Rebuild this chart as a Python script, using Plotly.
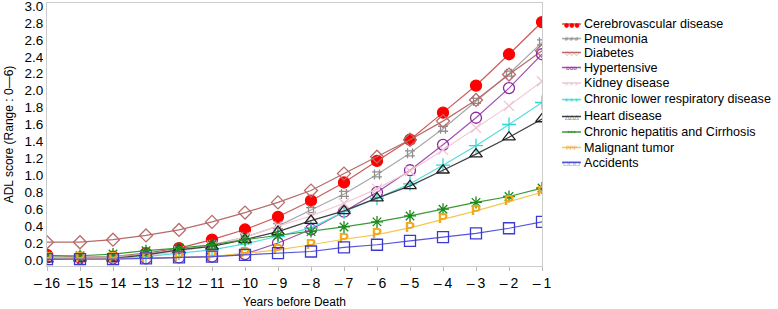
import plotly.graph_objects as go

years = [-16, -15, -14, -13, -12, -11, -10, -9, -8, -7, -6, -5, -4, -3, -2, -1]
tick_labels = ["\u2013\u200916", "\u2013\u200915", "\u2013\u200914", "\u2013\u200913", "\u2013\u200912",
               "\u2013\u200911", "\u2013\u200910", "\u2013\u20099", "\u2013\u20098", "\u2013\u20097",
               "\u2013\u20096", "\u2013\u20095", "\u2013\u20094", "\u2013\u20093", "\u2013\u20092", "\u2013\u20091"]
y_ticks = [0.0, 0.2, 0.4, 0.6, 0.8, 1.0, 1.2, 1.4, 1.6, 1.8, 2.0, 2.2, 2.4, 2.6, 2.8, 3.0]

cerebrovascular = [0.06, 0.03, 0.04, 0.08, 0.14, 0.24, 0.36, 0.51, 0.70, 0.915, 1.17, 1.42, 1.74, 2.06, 2.43, 2.81]
pneumonia = [0.04, 0.03, 0.04, 0.07, 0.12, 0.18, 0.27, 0.40, 0.59, 0.78, 1.01, 1.26, 1.55, 1.88, 2.20, 2.57]
diabetes = [0.21, 0.21, 0.24, 0.29, 0.355, 0.45, 0.56, 0.68, 0.82, 1.02, 1.22, 1.42, 1.64, 1.89, 2.19, 2.47]
hypertensive = [0.03, 0.02, 0.02, 0.02, 0.03, 0.04, 0.07, 0.20, 0.36, 0.57, 0.80, 1.06, 1.36, 1.68, 2.03, 2.43]
kidney = [0.03, 0.02, 0.03, 0.05, 0.10, 0.17, 0.27, 0.40, 0.52, 0.67, 0.84, 1.05, 1.30, 1.56, 1.82, 2.11]
clrd = [0.03, 0.02, 0.02, 0.04, 0.08, 0.12, 0.19, 0.28, 0.38, 0.57, 0.73, 0.90, 1.12, 1.35, 1.60, 1.86]
heart = [0.01, 0.02, 0.02, 0.06, 0.12, 0.16, 0.24, 0.335, 0.465, 0.58, 0.73, 0.875, 1.06, 1.25, 1.45, 1.665]
hepatitis = [0.05, 0.05, 0.07, 0.11, 0.14, 0.18, 0.24, 0.29, 0.335, 0.39, 0.45, 0.52, 0.60, 0.68, 0.75, 0.85]
malignant = [0.02, 0.02, 0.02, 0.02, 0.03, 0.04, 0.08, 0.12, 0.18, 0.245, 0.30, 0.38, 0.48, 0.58, 0.69, 0.80]
accidents = [0.01, 0.01, 0.01, 0.02, 0.03, 0.04, 0.06, 0.08, 0.10, 0.15, 0.18, 0.225, 0.27, 0.315, 0.375, 0.45]

# name, values, line colour, marker colour, marker symbol, size, legend glyph
series = [
    ("Cerebrovascular disease", cerebrovascular, "#cc5a5a", "#ff0000", "circle", 11, "\u25cf"),
    ("Pneumonia", pneumonia, "#a8a8a8", "#909090", "hash-open", 10, "#"),
    ("Diabetes", diabetes, "#b86a6a", "#b86a6a", "diamond-open", 10, "\u25c7"),
    ("Hypertensive", hypertensive, "#a050b0", "#8a2aa0", "circle-open", 11, "o"),
    ("Kidney disease", kidney, "#f2c8d4", "#f0c0d0", "x-thin-open", 10, "\u00d7"),
    ("Chronic lower respiratory disease", clrd, "#55dede", "#30d8d8", "cross-thin-open", 10, "+"),
    ("Heart disease", heart, "#404040", "#202020", "triangle-up-open", 11, "\u25b3"),
    ("Chronic hepatitis and Cirrhosis", hepatitis, "#3a9a3a", "#1a8a1a", "asterisk-open", 10, "*"),
    ("Malignant tumor", malignant, "#f2c850", "#f0a818", None, 10, "P"),
    ("Accidents", accidents, "#5555dd", "#3a3ad0", "square-open", 11, "\u25a1"),
]

ML, MR, MT, MB = 47, 236, 3, 43
W, H = 778, 309
PW, PH = W - ML - MR, H - MT - MB

def px_x(p):
    return (p - ML) / PW

def px_y(p):
    return (H - MB - p) / PH

fig = go.Figure()
for name, vals, lc, mc, sym, ms, g in series:
    if sym is None:
        fig.add_trace(go.Scatter(
            x=years, y=vals, name=name, mode="lines",
            line=dict(color=lc, width=1.2), showlegend=False,
        ))
        fig.add_trace(go.Scatter(
            x=years, y=vals, mode="text", text=["<b>P</b>"] * len(years), showlegend=False,
            textfont=dict(color=mc, size=15, family="Liberation Sans"),
            hoverinfo="skip",
        ))
    else:
        fig.add_trace(go.Scatter(
            x=years, y=vals, name=name, mode="lines+markers", showlegend=False,
            line=dict(color=lc, width=1.2),
            marker=dict(symbol=sym, size=ms, color=mc, line=dict(color=mc, width=1.3)),
        ))

# manual legend
row_y = [24, 38.5, 52.5, 67.5, 83, 99.5, 116.5, 132, 147.5, 162.5]
shapes = []
annotations = []
for (name, vals, lc, mc, sym, ms, g), ry in zip(series, row_y):
    shapes.append(dict(type="line", xref="paper", yref="paper",
                       x0=px_x(562), x1=px_x(581), y0=px_y(ry), y1=px_y(ry),
                       line=dict(color=lc, width=1.5)))
    annotations.append(dict(xref="paper", yref="paper", x=px_x(571.5), y=px_y(ry),
                            text=g + g + g, showarrow=False, xanchor="center", yanchor="middle",
                            font=dict(size=6, color=mc, family="DejaVu Sans")))
    annotations.append(dict(xref="paper", yref="paper", x=px_x(582), y=px_y(ry),
                            text=name, showarrow=False, xanchor="left", yanchor="middle",
                            font=dict(size=12.6, color="#000000")))

fig.update_layout(
    width=W, height=H,
    margin=dict(l=ML, r=MR, t=MT, b=MB),
    paper_bgcolor="white", plot_bgcolor="white",
    font=dict(family="Liberation Sans, Arial, sans-serif", color="#000000", size=12),
    showlegend=False,
    shapes=shapes, annotations=annotations,
    xaxis=dict(range=[-16, -1], tickmode="array", tickvals=years, ticktext=tick_labels,
               showgrid=False, zeroline=False, showline=True, linecolor="#cccccc", mirror=True,
               ticks="outside", ticklen=4, tickcolor="#bbbbbb", automargin=False,
               title=dict(text="Years before Death", font=dict(size=12), standoff=10),
               tickfont=dict(size=14)),
    yaxis=dict(range=[-0.071, 3.035], tickmode="array", tickvals=y_ticks,
               ticktext=[f"{v:.1f}" for v in y_ticks], automargin=False,
               ticklabeloverflow="allow",
               showgrid=False, zeroline=False, showline=True, linecolor="#cccccc", mirror=True,
               ticks="", title=dict(text="ADL score (Range : 0\u20146)", font=dict(size=12), standoff=8),
               tickfont=dict(size=13.5)),
)

fig.write_html("out.html", config={"displayModeBar": False},
               post_script="document.body.style.margin='0px';")
